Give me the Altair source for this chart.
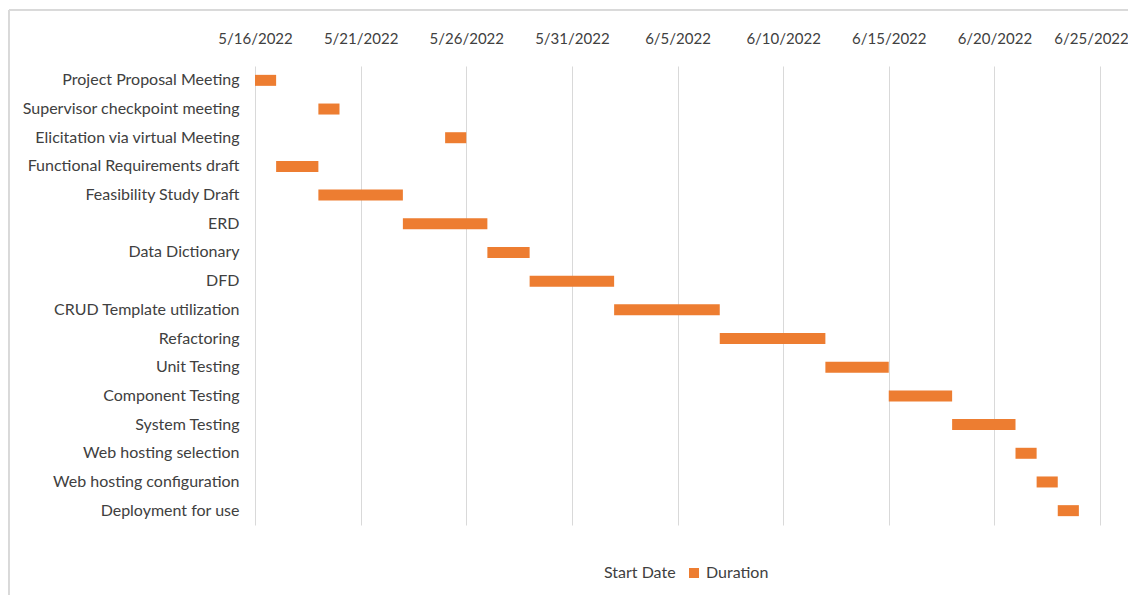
import altair as alt
import pandas as pd

tasks = [
    "Project Proposal Meeting", "Supervisor checkpoint meeting", "Elicitation via virtual Meeting",
    "Functional Requirements draft", "Feasibility Study Draft", "ERD", "Data Dictionary", "DFD",
    "CRUD Template utilization", "Refactoring", "Unit Testing", "Component Testing",
    "System Testing", "Web hosting selection", "Web hosting configuration", "Deployment for use",
]
start_dates = [
    "2022-05-16", "2022-05-19", "2022-05-25", "2022-05-17", "2022-05-19", "2022-05-23",
    "2022-05-27", "2022-05-29", "2022-06-02", "2022-06-07", "2022-06-12", "2022-06-15",
    "2022-06-18", "2022-06-21", "2022-06-22", "2022-06-23",
]
durations = [1, 1, 1, 2, 4, 4, 2, 4, 5, 5, 3, 3, 3, 1, 1, 1]
tick_days = [(5, 16), (5, 21), (5, 26), (5, 31), (6, 5), (6, 10), (6, 15), (6, 20), (6, 25)]

df = pd.DataFrame({"task": tasks, "start": pd.to_datetime(start_dates), "duration": durations})
df["end"] = df["start"] + pd.to_timedelta(df["duration"], unit="D")
df["series"] = "Duration"
df["start"] = df["start"].dt.strftime("%Y-%m-%d")
df["end"] = df["end"].dt.strftime("%Y-%m-%d")

FONT = "Lato"
TXT = "#404040"

xvals = [alt.DateTime(year=2022, month=m, date=d, utc=True) for m, d in tick_days]

bars = alt.Chart(df).mark_bar(size=11).encode(
    x=alt.X("start:T", title=None,
            scale=alt.Scale(type="utc", domain=[alt.DateTime(year=2022, month=5, date=16, utc=True),
                                                alt.DateTime(year=2022, month=6, date=25, utc=True)]),
            axis=alt.Axis(orient="top", values=xvals,
                          labelExpr="utcFormat(datum.value, '%-m/%-d/%Y')",
                          labelOverlap=False, labelBound=False, labelFlush=False,
                          labelOffset={"condition": {"test": "datum.value >= utc(2022, 5, 24)", "value": -9},
                                       "value": 0},
                          domain=False, ticks=False, grid=True, gridColor="#d9d9d9",
                          labelPadding=20, labelFontSize=15, labelColor=TXT, labelFont=FONT)),
    x2="end:T",
    y=alt.Y("task:N", sort=tasks, title=None,
            axis=alt.Axis(domain=False, ticks=False, labelPadding=16, labelFontSize=16,
                          labelColor=TXT, labelFont=FONT, labelLimit=400)),
    color=alt.Color("series:N", title=None,
                    scale=alt.Scale(domain=["Start Date", "Duration"], range=["transparent", "#ED7D31"]),
                    legend=alt.Legend(orient="none", legendX=329, legendY=499, direction="horizontal",
                                      symbolType="square", symbolSize=100, symbolStrokeWidth=0,
                                      labelFontSize=16, labelColor=TXT, labelFont=FONT,
                                      columnPadding=10, labelOffset=4)),
)

frame_top = alt.Chart(df).mark_rule(color="#d9d9d9").encode(
    x=alt.value(-246), x2=alt.value(900), y=alt.value(-56))
frame_left = alt.Chart(df).mark_rule(color="#d9d9d9").encode(
    x=alt.value(-246), y=alt.value(-56), y2=alt.value(560))

chart = alt.layer(frame_top, frame_left, bars).properties(
    width=845, height=459,
    background="white",
    autosize=alt.AutoSizeParams(type="none"),
    padding={"left": 247, "top": 58, "right": 28, "bottom": 70},
).configure_view(strokeWidth=0, stroke="transparent")

chart.save("out.html", embed_options={"renderer": "svg", "actions": False})
